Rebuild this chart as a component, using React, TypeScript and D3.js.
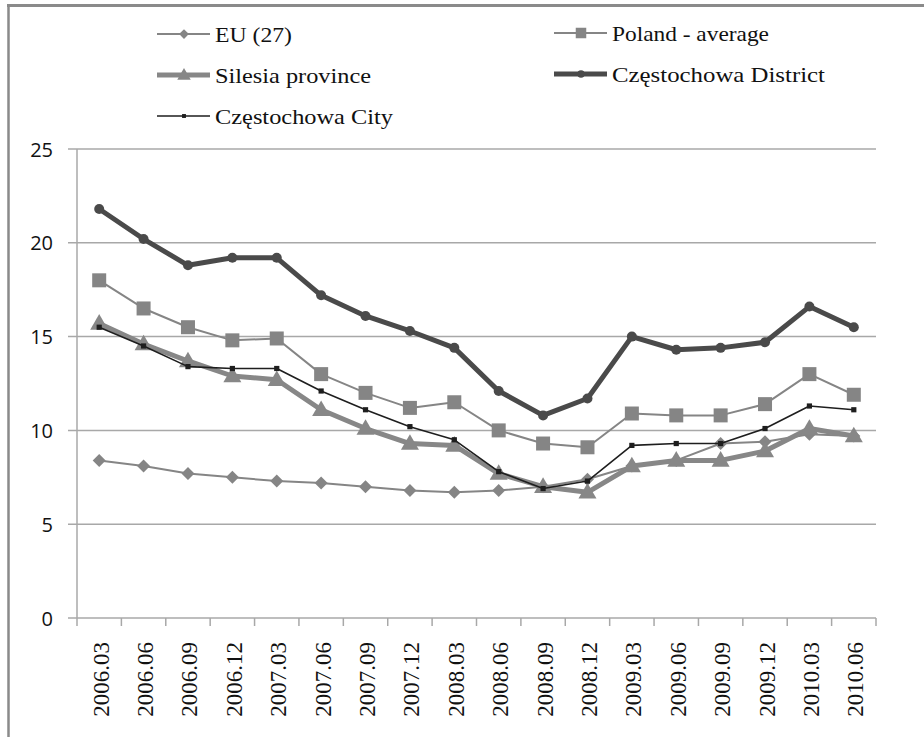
import React from "react";
import * as d3 from "d3";

const categories = ["2006.03","2006.06","2006.09","2006.12","2007.03","2007.06","2007.09","2007.12","2008.03","2008.06","2008.09","2008.12","2009.03","2009.06","2009.09","2009.12","2010.03","2010.06"];
const euValues = [8.4, 8.1, 7.7, 7.5, 7.3, 7.2, 7.0, 6.8, 6.7, 6.8, 7.0, 7.4, 8.1, 8.4, 9.3, 9.4, 9.8, 9.7];
const polandValues = [18.0, 16.5, 15.5, 14.8, 14.9, 13.0, 12.0, 11.2, 11.5, 10.0, 9.3, 9.1, 10.9, 10.8, 10.8, 11.4, 13.0, 11.9];
const silesiaValues = [15.7, 14.6, 13.7, 12.9, 12.7, 11.1, 10.1, 9.3, 9.2, 7.7, 7.0, 6.7, 8.1, 8.4, 8.4, 8.9, 10.1, 9.7];
const districtValues = [21.8, 20.2, 18.8, 19.2, 19.2, 17.2, 16.1, 15.3, 14.4, 12.1, 10.8, 11.7, 15.0, 14.3, 14.4, 14.7, 16.6, 15.5];
const cityValues = [15.5, 14.5, 13.4, 13.3, 13.3, 12.1, 11.1, 10.2, 9.5, 7.8, 6.9, 7.3, 9.2, 9.3, 9.3, 10.1, 11.3, 11.1];
const yTicks = [0, 5, 10, 15, 20, 25];

type Marker = "diamond" | "square" | "triangle" | "circle" | "smallsquare";
interface Series { name: string; values: number[]; color: string; width: number; marker: Marker; }

const series: Series[] = [
  { name: "EU (27)", values: euValues, color: "#858585", width: 2, marker: "diamond" },
  { name: "Poland - average", values: polandValues, color: "#858585", width: 2, marker: "square" },
  { name: "Silesia province", values: silesiaValues, color: "#878787", width: 5, marker: "triangle" },
  { name: "Częstochowa District", values: districtValues, color: "#4a4a4a", width: 5, marker: "circle" },
  { name: "Częstochowa City", values: cityValues, color: "#1e1e1e", width: 1.6, marker: "smallsquare" },
];

const drawOrder = [0, 1, 2, 4, 3];

function markerEl(m: Marker, x: number, y: number, color: string, key: string, scale = 1) {
  switch (m) {
    case "diamond": {
      const r = 6.5 * scale;
      return <path key={key} d={`M${x},${y - r}L${x + r},${y}L${x},${y + r}L${x - r},${y}Z`} fill={color} />;
    }
    case "square": {
      const h = 7 * scale;
      return <rect key={key} x={x - h} y={y - h} width={2 * h} height={2 * h} fill={color} />;
    }
    case "triangle": {
      const s = 18 * scale;
      const hgt = s * 0.866;
      return <path key={key} d={`M${x},${y - hgt * 0.6}L${x + s / 2},${y + hgt * 0.4}L${x - s / 2},${y + hgt * 0.4}Z`} fill={color} />;
    }
    case "circle":
      return <circle key={key} cx={x} cy={y} r={5 * scale} fill={color} />;
    case "smallsquare": {
      const h = 2.6 * scale;
      return <rect key={key} x={x - h} y={y - h} width={2 * h} height={2 * h} fill={color} />;
    }
  }
}

export default function App() {
  const left = 77, right = 876, top = 149, bottom = 618;
  const x = d3.scaleBand<string>().domain(categories).range([left, right]).padding(0);
  const y = d3.scaleLinear().domain([0, 25]).range([bottom, top]);
  const bw = x.bandwidth();
  const cx = (c: string) => (x(c) as number) + bw / 2;
  const line = d3.line<number>().x((_, i) => cx(categories[i])).y(v => y(v));
  const gridColor = "#a8a8a8";

  const legendPos = [
    { lx: 157, ly: 34 },
    { lx: 554, ly: 33 },
    { lx: 157, ly: 75 },
    { lx: 554, ly: 74 },
    { lx: 157, ly: 116 },
  ];
  const legendWidths = [77, 157, 156, 213, 178];

  return (
    <svg width={924} height={737} style={{ position: "absolute", left: 0, top: 0, background: "#fff" }}>
      <rect x={0} y={0} width={924} height={737} fill="#ffffff" />
      {/* frame */}
      <line x1={7} x2={924} y1={5.5} y2={5.5} stroke="#8a8a8a" strokeWidth={3} />
      <line x1={8.5} x2={8.5} y1={4} y2={737} stroke="#8a8a8a" strokeWidth={2.5} />

      {/* gridlines & y ticks */}
      {yTicks.map(t => (
        <g key={t}>
          <line x1={68} x2={right} y1={y(t)} y2={y(t)} stroke={gridColor} strokeWidth={1.5} />
          <text x={53} y={y(t)} textAnchor="end" dominantBaseline="central" fontFamily="'Open Sans', sans-serif" fontSize={20} fill="#111">{t}</text>
        </g>
      ))}
      {/* y axis */}
      <line x1={left} x2={left} y1={top} y2={bottom + 8} stroke={gridColor} strokeWidth={1.5} />
      {/* x ticks */}
      {categories.map((c, i) => (
        <line key={"t" + i} x1={(x(c) as number) + bw} x2={(x(c) as number) + bw} y1={bottom} y2={bottom + 8} stroke={gridColor} strokeWidth={1.5} />
      ))}
      {/* x labels */}
      {categories.map((c, i) => (
        <text key={"l" + i} transform={`translate(${cx(c) + 2},642) rotate(-90)`} textAnchor="end" dominantBaseline="central" fontFamily="'Liberation Serif', 'Times New Roman', serif" fontSize={23} fill="#111">{c}</text>
      ))}

      {/* series */}
      {drawOrder.map(si => {
        const s = series[si];
        return (
          <g key={s.name}>
            <path d={line(s.values) || ""} fill="none" stroke={s.color} strokeWidth={s.width} strokeLinejoin="round" strokeLinecap="round" />
            {s.values.map((v, i) => markerEl(s.marker, cx(categories[i]), y(v), s.color, s.name + i))}
          </g>
        );
      })}

      {/* legend */}
      {series.map((s, i) => {
        const p = legendPos[i];
        return (
          <g key={"lg" + i}>
            <line x1={p.lx} x2={p.lx + 53} y1={p.ly} y2={p.ly} stroke={s.color} strokeWidth={s.width} />
            {markerEl(s.marker, p.lx + 27, p.ly, s.color, "lm" + i, s.marker === "triangle" ? 0.75 : 0.75)}
            <text x={p.lx + 58} y={p.ly} dominantBaseline="central" fontFamily="'Liberation Serif', 'Times New Roman', serif" fontSize={22} textLength={legendWidths[i]} lengthAdjust="spacingAndGlyphs" fill="#111">{s.name}</text>
          </g>
        );
      })}
    </svg>
  );
}
